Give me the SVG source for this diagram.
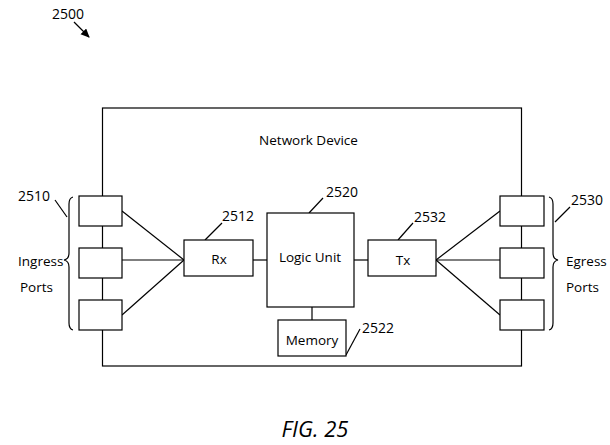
<svg xmlns="http://www.w3.org/2000/svg" width="610" height="445" viewBox="0 0 610 445">
<style>
.b{fill:#fff;stroke:#000;stroke-width:1.2}
.l{fill:none;stroke:#000;stroke-width:1.2}
text{font-family:"Open Sans","Liberation Sans",sans-serif;font-size:13.5px;fill:#000}
.n{font-size:14px}
.c{text-anchor:middle}
</style>
<defs>
<marker id="ah" markerWidth="10" markerHeight="10" refX="8" refY="4" orient="auto" markerUnits="userSpaceOnUse">
<path d="M0,0 L9,4 L0,8 Z" fill="#000"/>
</marker>
</defs>
<g id="device">
<rect x="102.5" y="108" width="419" height="258" class="l"/>
<text x="308.5" y="145" class="c">Network Device</text>
</g>
<g id="connectors">
<line x1="122" y1="211" x2="184" y2="260" class="l"/>
<line x1="122" y1="260" x2="184" y2="260" class="l"/>
<line x1="122" y1="315" x2="184" y2="260" class="l"/>
<line x1="253" y1="260" x2="267" y2="260" class="l"/>
<line x1="354" y1="260" x2="368" y2="260" class="l"/>
<line x1="312" y1="307" x2="312" y2="320" class="l"/>
<line x1="436" y1="260" x2="500" y2="211" class="l"/>
<line x1="436" y1="260" x2="500" y2="260" class="l"/>
<line x1="436" y1="260" x2="500" y2="315" class="l"/>
<line x1="74" y1="22" x2="89" y2="37" class="l" marker-end="url(#ah)"/>
<line x1="55" y1="200" x2="67" y2="217" class="l"/>
<line x1="205" y1="240" x2="222" y2="223" class="l"/>
<line x1="309" y1="213" x2="323" y2="198" class="l"/>
<line x1="346" y1="355" x2="360" y2="329" class="l"/>
<line x1="398" y1="240" x2="413" y2="223" class="l"/>
<line x1="555" y1="222" x2="570" y2="207" class="l"/>
</g>
<g id="label-2500"><text x="52" y="19" class="n">2500</text></g>
<g id="ingress">
<rect x="79" y="196" width="43" height="30" class="b"/>
<rect x="79" y="248" width="43" height="30" class="b"/>
<rect x="79" y="300" width="43" height="30" class="b"/>
<path d="M73,197 Q69,198 69,204 L69,253 Q69,259 64,260 Q69,261 69,267 L69,323 Q69,329 73,330" class="l"/>
<text x="18" y="201" class="n">2510</text>
<text x="18" y="266">Ingress</text>
<text x="20" y="292">Ports</text>
</g>
<g id="rx">
<rect x="184" y="240" width="69" height="36" class="b"/>
<text x="219" y="264" class="c">Rx</text>
<text x="222" y="221" class="n">2512</text>
</g>
<g id="logic">
<rect x="267" y="213" width="87" height="94" class="b"/>
<text x="310" y="262" class="c">Logic Unit</text>
<text x="326" y="197" class="n">2520</text>
</g>
<g id="memory">
<rect x="278" y="320" width="68" height="36" class="b"/>
<text x="312" y="345" class="c">Memory</text>
<text x="362" y="333" class="n">2522</text>
</g>
<g id="tx">
<rect x="368" y="240" width="68" height="36" class="b"/>
<text x="403" y="265" class="c">Tx</text>
<text x="414" y="222" class="n">2532</text>
</g>
<g id="egress">
<rect x="500" y="196" width="44" height="30" class="b"/>
<rect x="500" y="248" width="44" height="30" class="b"/>
<rect x="500" y="300" width="44" height="30" class="b"/>
<path d="M549,197 Q553,198 553,204 L553,253 Q553,259 558,260 Q553,261 553,267 L553,323 Q553,329 549,330" class="l"/>
<text x="571" y="205" class="n">2530</text>
<text x="566" y="266">Egress</text>
<text x="566" y="292">Ports</text>
</g>
<g id="caption"><text x="315" y="437" class="c" style="font-size:22px;font-style:italic">FIG. 25</text></g>
</svg>
